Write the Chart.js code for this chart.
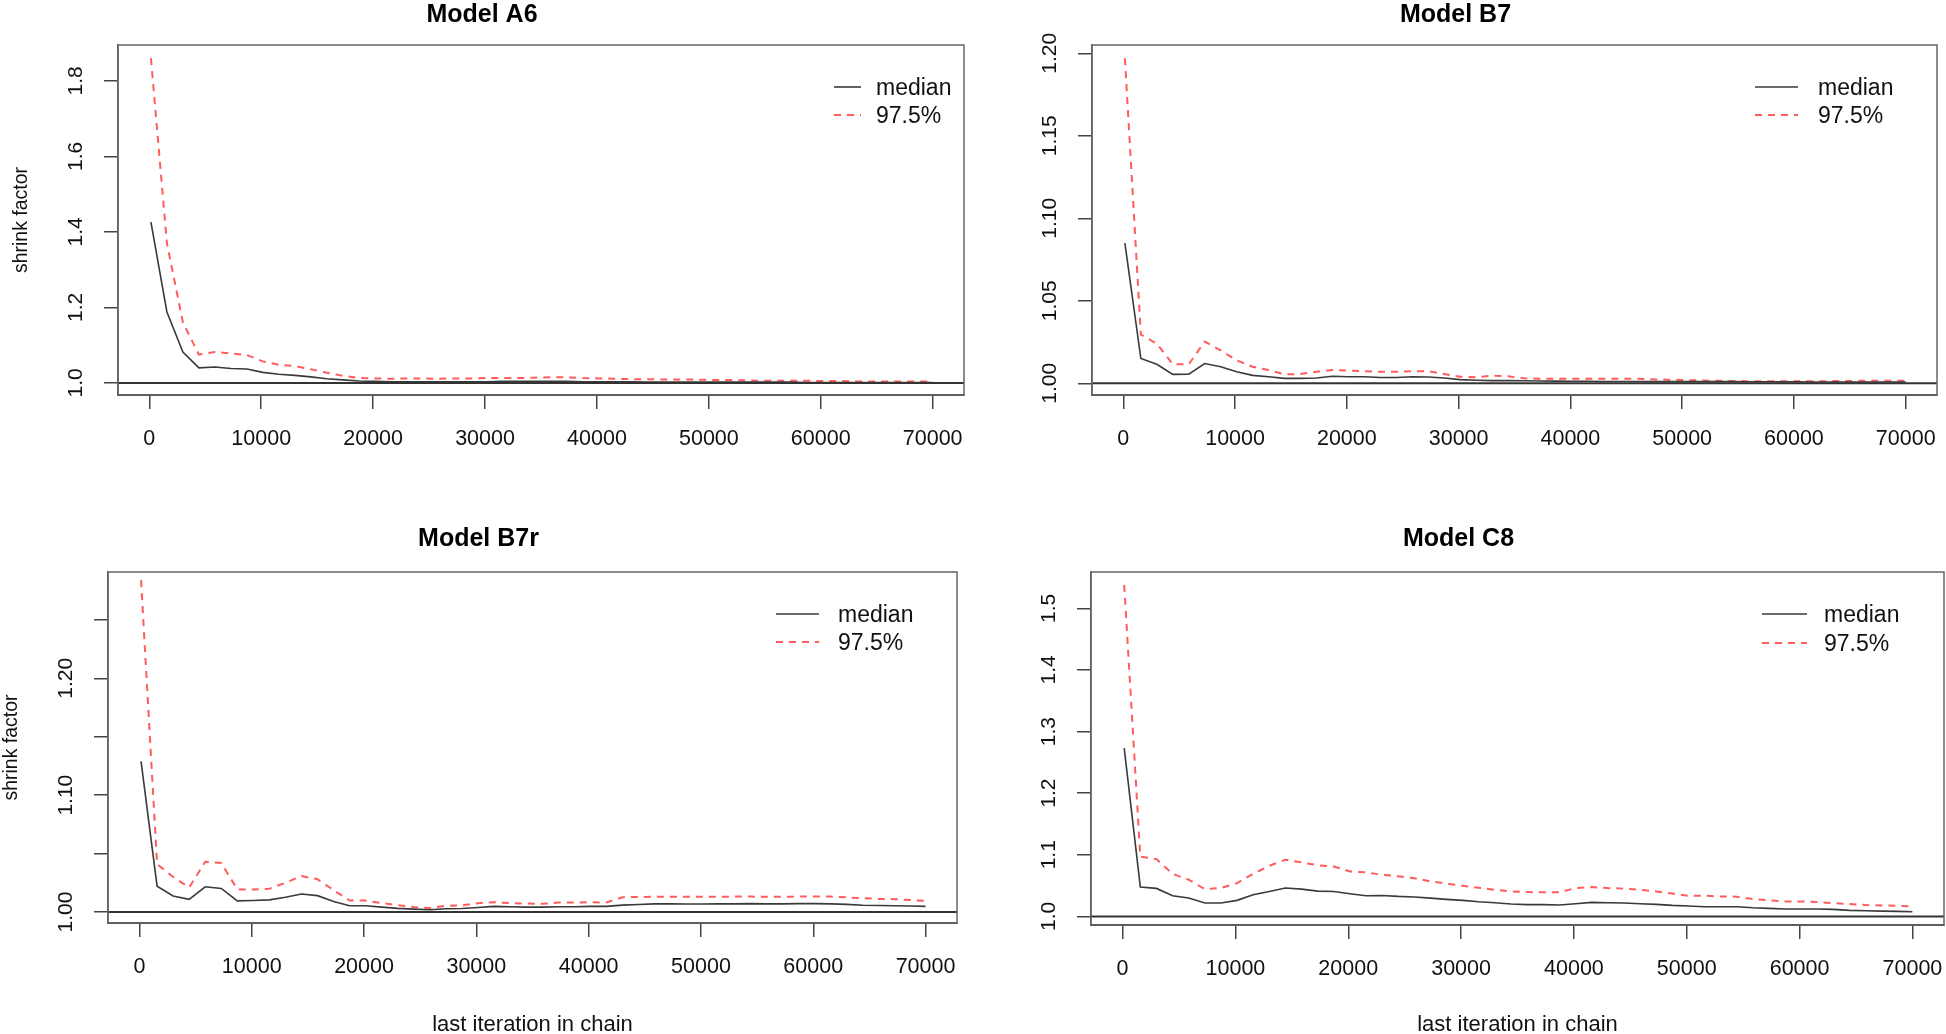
<!DOCTYPE html>
<html>
<head>
    <title>Shrink factor by model</title>
    <script src="https://cdn.jsdelivr.net/npm/chart.js"></script>
    <style>
        body {
            margin: 0;
            background: #fff;
            overflow: hidden;
            width: 1946px;
            height: 1034px;
            position: relative;
            font-family: "Liberation Sans", Arial, sans-serif;
        }
        canvas { position: absolute; }
        .leg {
            position: absolute;
            height: 28px;
            display: flex;
            align-items: center;
            font-size: 23px;
            color: #111;
            white-space: nowrap;
        }
    </style>
</head>
<body>
    <canvas id="a6"></canvas>
    <canvas id="b7"></canvas>
    <canvas id="b7r"></canvas>
    <canvas id="c8"></canvas>

    <script>
        // last iteration in each bin
        const iterations = [143, 1571, 3000, 4429, 5857, 7286, 8714, 10143, 11571, 13000,
            14429, 15857, 17286, 18714, 20143, 21571, 23000, 24429, 25857, 27286,
            28714, 30143, 31571, 33000, 34429, 35857, 37286, 38714, 40143, 41571,
            43000, 44429, 45857, 47286, 48714, 50143, 51571, 53000, 54429, 55857,
            57286, 58714, 60143, 61571, 63000, 64429, 65857, 67286, 68714, 70000];

        const a6Median = [1.426, 1.188, 1.082, 1.040, 1.042, 1.038, 1.037, 1.028, 1.023, 1.020,
            1.016, 1.011, 1.008, 1.005, 1.004, 1.003, 1.003, 1.003, 1.003, 1.003,
            1.003, 1.003, 1.004, 1.004, 1.004, 1.004, 1.004, 1.003, 1.003, 1.003,
            1.003, 1.002, 1.002, 1.002, 1.002, 1.002, 1.002, 1.002, 1.002, 1.002,
            1.002, 1.001, 1.001, 1.001, 1.001, 1.001, 1.001, 1.001, 1.001, 1.001];
        const a6Upper = [1.860, 1.370, 1.160, 1.075, 1.082, 1.078, 1.074, 1.057, 1.048, 1.045,
            1.036, 1.027, 1.019, 1.013, 1.012, 1.011, 1.012, 1.012, 1.011, 1.012,
            1.012, 1.013, 1.013, 1.013, 1.014, 1.015, 1.015, 1.013, 1.012, 1.011,
            1.010, 1.010, 1.009, 1.009, 1.009, 1.008, 1.008, 1.007, 1.006, 1.006,
            1.006, 1.006, 1.005, 1.005, 1.004, 1.004, 1.0035, 1.0035, 1.004, 1.004];

        const b7Median = [1.085, 1.015, 1.0115, 1.0054, 1.0055, 1.012, 1.010, 1.007, 1.0048, 1.004,
            1.003, 1.003, 1.0032, 1.0043, 1.004, 1.004, 1.0035, 1.0035, 1.004, 1.0038,
            1.0032, 1.0022, 1.0018, 1.0016, 1.0016, 1.0015, 1.0014, 1.0013, 1.0012, 1.0012,
            1.0011, 1.0011, 1.0011, 1.001, 1.001, 1.001, 1.001, 1.001, 1.001, 1.0009,
            1.0009, 1.0009, 1.0009, 1.0008, 1.0008, 1.0008, 1.0008, 1.0008, 1.0008, 1.0008];
        const b7Upper = [1.197, 1.0295, 1.024, 1.0115, 1.0115, 1.0253, 1.0199, 1.0139, 1.010, 1.008,
            1.0054, 1.0056, 1.007, 1.0081, 1.0077, 1.0073, 1.007, 1.007, 1.0073, 1.0073,
            1.0056, 1.004, 1.0036, 1.0046, 1.0042, 1.003, 1.0028, 1.0027, 1.0027, 1.0028,
            1.0028, 1.0028, 1.0027, 1.0024, 1.0022, 1.002, 1.0017, 1.0015, 1.0014, 1.0013,
            1.0013, 1.0013, 1.0013, 1.0013, 1.0013, 1.0014, 1.0015, 1.0016, 1.0016, 1.0016];

        const b7rMedian = [1.129, 1.0221, 1.0137, 1.0109, 1.0216, 1.0202, 1.0095, 1.0098, 1.0104, 1.0126,
            1.0154, 1.014, 1.009, 1.0053, 1.0053, 1.0042, 1.0031, 1.0025, 1.002, 1.0028,
            1.003, 1.0039, 1.0048, 1.0045, 1.0042, 1.0042, 1.0045, 1.0045, 1.0048, 1.0048,
            1.0059, 1.0064, 1.007, 1.007, 1.0068, 1.0068, 1.007, 1.007, 1.0072, 1.007,
            1.007, 1.0072, 1.0072, 1.007, 1.0065, 1.0058, 1.0056, 1.0054, 1.0052, 1.0048];
        const b7rUpper = [1.284, 1.041, 1.030, 1.021, 1.043, 1.042, 1.0193, 1.0193, 1.020, 1.025,
            1.0308, 1.028, 1.0188, 1.0098, 1.0098, 1.0076, 1.0059, 1.0042, 1.0034, 1.0053,
            1.0056, 1.0076, 1.0084, 1.0076, 1.0073, 1.007, 1.0081, 1.0081, 1.0084, 1.0081,
            1.0126, 1.0129, 1.013, 1.013, 1.013, 1.013, 1.013, 1.0132, 1.0132, 1.013,
            1.013, 1.0132, 1.0132, 1.0132, 1.0125, 1.0118, 1.0112, 1.011, 1.0102, 1.0095];

        const c8Median = [1.273, 1.0476, 1.0454, 1.0335, 1.0297, 1.0216, 1.0216, 1.026, 1.035, 1.0405,
            1.046, 1.0443, 1.041, 1.0405, 1.0368, 1.0335, 1.034, 1.0324, 1.0314, 1.0297,
            1.0276, 1.026, 1.0238, 1.0222, 1.020, 1.019, 1.019, 1.0184, 1.0205, 1.0227,
            1.0222, 1.0216, 1.0205, 1.0195, 1.0178, 1.0168, 1.0157, 1.0157, 1.0157, 1.014,
            1.013, 1.0119, 1.0119, 1.0119, 1.0114, 1.0097, 1.0092, 1.0086, 1.0081, 1.0076];
        const c8Upper = [1.538, 1.097, 1.093, 1.069, 1.0595, 1.0443, 1.046, 1.054, 1.069, 1.082,
            1.092, 1.0876, 1.083, 1.081, 1.073, 1.0714, 1.0676, 1.065, 1.062, 1.0568,
            1.053, 1.0497, 1.0465, 1.0432, 1.0405, 1.0395, 1.039, 1.039, 1.046, 1.0476,
            1.046, 1.045, 1.043, 1.0405, 1.037, 1.0335, 1.0335, 1.0324, 1.032, 1.028,
            1.026, 1.0243, 1.0243, 1.0232, 1.0216, 1.020, 1.0184, 1.0178, 1.0173, 1.0162];

        const xTicks = [0, 10000, 20000, 30000, 40000, 50000, 60000, 70000];
        const a6Ticks = [1.0, 1.2, 1.4, 1.6, 1.8];
        const b7Ticks = [1.00, 1.05, 1.10, 1.15, 1.20];
        const b7rTicks = [1.00, 1.05, 1.10, 1.15, 1.20, 1.25];
        const b7rLabelled = [1.00, 1.10, 1.20];
        const c8Ticks = [1.0, 1.1, 1.2, 1.3, 1.4, 1.5];

        const seriesNames = ['median', '97.5%'];
        const medianColor = '#3a3a3a';
        const upperColor = '#ff5c5c';

        Chart.defaults.font.family = '"Liberation Sans", Arial, sans-serif';
        Chart.defaults.color = '#111';

        // box round the plot region plus the reference line at 1
        const rFrame = {
            id: 'rFrame',
            afterDatasetsDraw(chart) {
                const { ctx, chartArea: a, scales: { y } } = chart;
                const y1 = y.getPixelForValue(1);
                ctx.save();
                ctx.strokeStyle = '#333';
                ctx.lineWidth = 2;
                ctx.beginPath();
                ctx.moveTo(a.left, y1);
                ctx.lineTo(a.right, y1);
                ctx.stroke();
                ctx.strokeStyle = '#666';
                ctx.lineWidth = 1.5;
                ctx.strokeRect(a.left, a.top, a.right - a.left, a.bottom - a.top);
                ctx.restore();
            }
        };

        function makePanel(p) {
            const canvas = document.getElementById(p.id);
            canvas.width = p.w;
            canvas.height = p.h;
            canvas.style.left = p.left + 'px';
            canvas.style.top = p.top + 'px';

            const chart = new Chart(canvas, {
                type: 'line',
                data: {
                    datasets: [{
                        label: seriesNames[0],
                        data: iterations.map((x, i) => ({ x: x, y: p.median[i] })),
                        borderColor: medianColor,
                        borderWidth: 1.6,
                        pointRadius: 0,
                        tension: 0
                    }, {
                        label: seriesNames[1],
                        data: iterations.map((x, i) => ({ x: x, y: p.upper[i] })),
                        borderColor: upperColor,
                        borderWidth: 2,
                        borderDash: [7, 6],
                        pointRadius: 0,
                        tension: 0
                    }]
                },
                options: {
                    responsive: false,
                    animation: false,
                    devicePixelRatio: 1,
                    layout: { padding: { left: 0, right: 40, top: 0, bottom: 0 } },
                    plugins: {
                        legend: { display: false },
                        tooltip: { enabled: false },
                        title: {
                            display: true,
                            text: p.title,
                            color: '#000',
                            font: { size: 25, weight: 'bold', lineHeight: 1 },
                            padding: { top: p.titleTop, bottom: p.titleGap }
                        }
                    },
                    scales: {
                        x: {
                            type: 'linear',
                            min: -2800,
                            max: 72800,
                            afterBuildTicks: s => { s.ticks = xTicks.map(v => ({ value: v })); },
                            afterFit: s => { s.height = p.xHeight; },
                            grid: { drawOnChartArea: false, drawTicks: true, tickLength: 14, color: '#444', lineWidth: 1.5 },
                            border: { display: true, color: '#444', width: 2 },
                            ticks: { font: { size: 21.5 }, color: '#111', padding: 17, maxRotation: 0, callback: v => String(v) },
                            title: {
                                display: p.showXTitle,
                                text: 'last iteration in chain',
                                font: { size: 22 },
                                color: '#111',
                                padding: { top: 0, bottom: 0 }
                            }
                        },
                        y: {
                            type: 'linear',
                            min: p.yMin,
                            max: p.yMax,
                            afterBuildTicks: s => { s.ticks = p.yTicks.map(v => ({ value: v })); },
                            afterFit: s => { s.width = p.yWidth; },
                            grid: { drawOnChartArea: false, drawTicks: true, tickLength: 14, color: '#444', lineWidth: 1.5 },
                            border: { display: true, color: '#555', width: 1.5 },
                            ticks: {
                                font: { size: 21 },
                                color: '#111',
                                minRotation: 90,
                                maxRotation: 90,
                                crossAlign: 'center',
                                padding: p.yPad,
                                callback: v => p.yLabelled.includes(v) ? v.toFixed(p.decimals) : ''
                            },
                            title: {
                                display: p.showYTitle,
                                text: 'shrink factor',
                                font: { size: 19.5 },
                                color: '#111',
                                padding: { top: p.yTitlePad, bottom: 0 }
                            }
                        }
                    }
                },
                plugins: [rFrame]
            });

            // legend inside the plot, top right, without a box
            chart.data.datasets.forEach((ds, i) => {
                const item = document.createElement('div');
                item.className = 'leg';
                item.style.left = p.leg.x + 'px';
                item.style.top = (p.leg.rows[i] - 14) + 'px';
                const len = p.leg.len;
                const dash = ds.borderDash ? 'stroke-dasharray="7 6"' : '';
                item.innerHTML = '<svg width="' + len + '" height="6" style="margin-right:' + p.leg.gap + 'px">' +
                    '<line x1="0" y1="3" x2="' + len + '" y2="3" stroke="' + ds.borderColor +
                    '" stroke-width="' + ds.borderWidth + '" ' + dash + '/></svg><span>' + ds.label + '</span>';
                document.body.appendChild(item);
            });
            return chart;
        }

        makePanel({
            id: 'a6', title: 'Model A6', left: 0, top: -2, w: 1004, h: 500,
            median: a6Median, upper: a6Upper,
            yMin: 0.968, yMax: 1.895, yTicks: a6Ticks, yLabelled: a6Ticks, decimals: 1,
            yWidth: 118, yPad: 13, titleTop: 5, titleGap: 17, xHeight: 103,
            showXTitle: false, showYTitle: true, yTitlePad: 10,
            leg: { x: 834, len: 27, gap: 15, rows: [87, 115] }
        });
        makePanel({
            id: 'b7', title: 'Model B7', left: 974, top: -2, w: 1003, h: 500,
            median: b7Median, upper: b7Upper,
            yMin: 0.9929, yMax: 1.205, yTicks: b7Ticks, yLabelled: b7Ticks, decimals: 2,
            yWidth: 118, yPad: 7.5, titleTop: 5, titleGap: 17, xHeight: 103,
            showXTitle: false, showYTitle: false, yTitlePad: 0,
            leg: { x: 1755, len: 43, gap: 20, rows: [87, 115] }
        });
        makePanel({
            id: 'b7r', title: 'Model B7r', left: 0, top: 524, w: 997, h: 514,
            median: b7rMedian, upper: b7rUpper,
            yMin: 0.9906, yMax: 1.291, yTicks: b7rTicks, yLabelled: b7rLabelled, decimals: 2,
            yWidth: 108, yPad: 7.5, titleTop: 3, titleGap: 20, xHeight: 115,
            showXTitle: true, showYTitle: true, yTitlePad: 0,
            leg: { x: 776, len: 43, gap: 19, rows: [614, 642] }
        });
        makePanel({
            id: 'c8', title: 'Model C8', left: 973, top: 524, w: 1011, h: 514,
            median: c8Median, upper: c8Upper,
            yMin: 0.986, yMax: 1.559, yTicks: c8Ticks, yLabelled: c8Ticks, decimals: 1,
            yWidth: 118, yPad: 13, titleTop: 3, titleGap: 20, xHeight: 113,
            showXTitle: true, showYTitle: false, yTitlePad: 0,
            leg: { x: 1762, len: 45, gap: 17, rows: [614, 643] }
        });
    </script>
</body>
</html>
